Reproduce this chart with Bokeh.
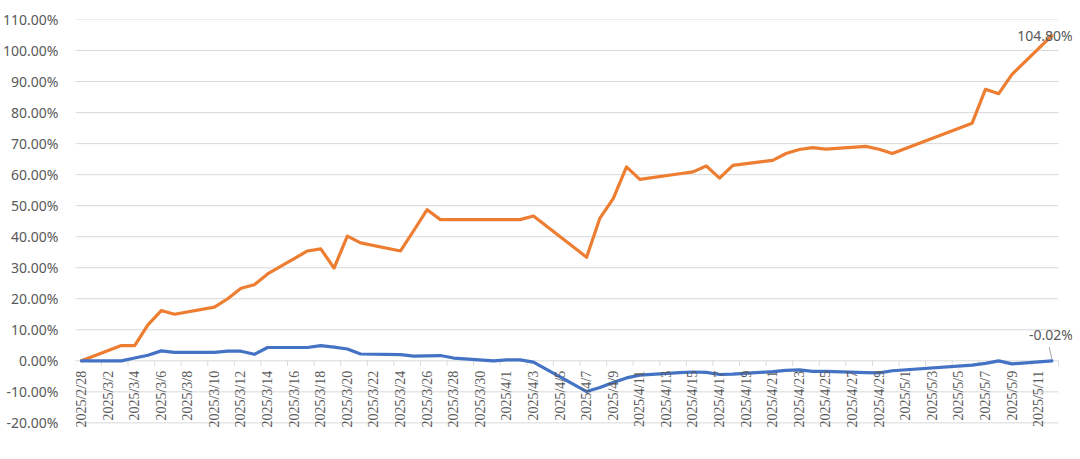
import math
from datetime import datetime
from bokeh.plotting import figure
from bokeh.models import Range1d, FixedTicker, PrintfTickFormatter, ColumnDataSource, LabelSet, Label
from bokeh.embed import file_html
from bokeh.resources import INLINE

# ---------------- data ----------------
dates = ["2025/2/28",
         "2025/3/3", "2025/3/4", "2025/3/5", "2025/3/6", "2025/3/7",
         "2025/3/10", "2025/3/11", "2025/3/12", "2025/3/13", "2025/3/14",
         "2025/3/17", "2025/3/18", "2025/3/19", "2025/3/20", "2025/3/21",
         "2025/3/24", "2025/3/25", "2025/3/26", "2025/3/27", "2025/3/28",
         "2025/3/31", "2025/4/1", "2025/4/2", "2025/4/3",
         "2025/4/7", "2025/4/8", "2025/4/9", "2025/4/10", "2025/4/11",
         "2025/4/14", "2025/4/15", "2025/4/16", "2025/4/17", "2025/4/18",
         "2025/4/21", "2025/4/22", "2025/4/23", "2025/4/24", "2025/4/25",
         "2025/4/28", "2025/4/29", "2025/4/30",
         "2025/5/6", "2025/5/7", "2025/5/8", "2025/5/9",
         "2025/5/12"]

orange_pct = [0.0,
              4.9, 4.9, 11.6, 16.2, 15.0,
              17.3, 20.0, 23.4, 24.5, 28.0,
              35.4, 36.1, 29.9, 40.2, 38.0,
              35.4, 42.0, 48.7, 45.5, 45.5,
              45.5, 45.5, 45.5, 46.7,
              33.4, 46.0, 52.3, 62.5, 58.5,
              60.3, 60.9, 62.8, 58.9, 63.0,
              64.6, 66.8, 68.1, 68.7, 68.2,
              69.1, 68.2, 66.8,
              76.6, 87.5, 86.1, 92.3,
              104.8]

blue_pct = [0.0,
            0.0, 0.9, 1.8, 3.2, 2.7,
            2.7, 3.1, 3.1, 2.1, 4.3,
            4.3, 4.9, 4.4, 3.8, 2.2,
            2.0, 1.5, 1.6, 1.7, 0.9,
            0.0, 0.3, 0.3, -0.4,
            -9.9, -8.6, -7.0, -5.5, -4.6,
            -3.8, -3.6, -3.7, -4.4, -4.3,
            -3.5, -3.1, -2.9, -3.4, -3.4,
            -3.8, -3.9, -3.2,
            -1.4, -0.8, 0.0, -1.0,
            -0.02]

tick_labels = ["2025/2/28", "2025/3/2", "2025/3/4", "2025/3/6", "2025/3/8",
               "2025/3/10", "2025/3/12", "2025/3/14", "2025/3/16", "2025/3/18",
               "2025/3/20", "2025/3/22", "2025/3/24", "2025/3/26", "2025/3/28",
               "2025/3/30", "2025/4/1", "2025/4/3", "2025/4/5", "2025/4/7",
               "2025/4/9", "2025/4/11", "2025/4/13", "2025/4/15", "2025/4/17",
               "2025/4/19", "2025/4/21", "2025/4/23", "2025/4/25", "2025/4/27",
               "2025/4/29", "2025/5/1", "2025/5/3", "2025/5/5", "2025/5/7",
               "2025/5/9", "2025/5/11"]

y_ticks = [-20, -10, 0, 10, 20, 30, 40, 50, 60, 70, 80, 90, 100, 110]

orange_end_label = "104.80%"
blue_end_label = "-0.02%"

# ---------------- derived positions ----------------
start = datetime.strptime(dates[0], "%Y/%m/%d")
def day_of(s):
    return (datetime.strptime(s, "%Y/%m/%d") - start).days

day = [day_of(d) for d in dates]
label_day = [day_of(s) for s in tick_labels]
last_day = day[-1]
x_lo, x_hi = day[0] - 0.45, last_day + 0.5          # plot-area extent (category slots)
tick_bounds = [d - 0.5 for d in label_day] + [label_day[-1] + 1.5]

FONT = "Noto Sans"
FS = "14px"
TXT = "#595959"
GRID = "#d9d9d9"
ORANGE = "#ED7D31"
BLUE = "#4472C4"

# frame is extended right/down so that the labels are not clipped; gridlines drawn to plot-area extent
p = figure(width=1076, height=455, output_backend="svg", toolbar_location=None,
           x_axis_location=None,
           x_range=Range1d(x_lo, x_hi + 1.05), y_range=Range1d(y_ticks[0] - 6, y_ticks[-1]),
           min_border_left=75, min_border_right=4, min_border_top=19, min_border_bottom=14)
p.outline_line_color = None
p.background_fill_color = "white"
p.border_fill_color = "white"
p.xgrid.visible = False
p.ygrid.visible = False

# y axis
p.yaxis.ticker = FixedTicker(ticks=y_ticks)
p.yaxis.formatter = PrintfTickFormatter(format="%.2f%%")
p.yaxis.axis_line_color = None
p.yaxis.major_tick_line_color = None
p.yaxis.minor_tick_line_color = None
p.yaxis.major_label_text_font = FONT
p.yaxis.major_label_text_font_size = FS
p.yaxis.major_label_text_color = TXT
p.yaxis.major_label_standoff = 11

# horizontal gridlines across the plot area
p.segment(x0=[x_lo] * len(y_ticks), x1=[x_hi] * len(y_ticks), y0=y_ticks, y1=y_ticks,
          line_color=GRID, line_width=1)
# category-axis tick marks below the zero line
p.segment(x0=tick_bounds, x1=tick_bounds, y0=[0] * len(tick_bounds), y1=[-1.6] * len(tick_bounds),
          line_color=GRID, line_width=1)

# series
p.line(day, orange_pct, line_color=ORANGE, line_width=3.2, line_join="round", line_cap="round")
p.line(day, blue_pct, line_color=BLUE, line_width=3.2, line_join="round", line_cap="round")

# category labels along the zero line
lab_src = ColumnDataSource(dict(x=label_day, y=[0] * len(label_day), t=tick_labels))
p.add_layout(LabelSet(x="x", y="y", text="t", source=lab_src, angle=math.pi / 2,
                      text_align="right", text_baseline="middle", y_offset=-10,
                      text_font=FONT, text_font_size=FS, text_color=TXT))

# end-point data labels
p.add_layout(Label(x=last_day, y=orange_pct[-1], text=orange_end_label, x_offset=-7,
                   text_align="center", text_baseline="middle",
                   text_font=FONT, text_font_size=FS, text_color=TXT))
p.add_layout(Label(x=last_day, y=blue_pct[-1], text=blue_end_label, x_offset=-1, y_offset=26,
                   text_align="center", text_baseline="middle",
                   text_font=FONT, text_font_size=FS, text_color=TXT))
p.line([last_day - 0.2, last_day], [blue_pct[-1] + 4.4, blue_pct[-1] + 0.6],
       line_color="#a6a6a6", line_width=1)

open("out.html", "w").write(file_html(p, INLINE))
